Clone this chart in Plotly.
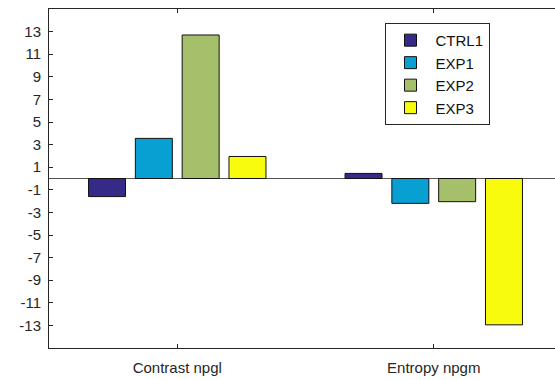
import plotly.graph_objects as go

categories = ["Contrast npgl", "Entropy npgm"]
series_names = ["CTRL1", "EXP1", "EXP2", "EXP3"]
ctrl1 = [-1.6, 0.45]
exp1 = [3.55, -2.2]
exp2 = [12.7, -2.05]
exp3 = [1.95, -12.95]
series_values = [ctrl1, exp1, exp2, exp3]
colors = ["#352a87", "#08a0d2", "#a6bf6a", "#f9fb0e"]
y_ticks = list(range(-13, 14, 2))

fig = go.Figure()
for name, vals, col in zip(series_names, series_values, colors):
    fig.add_trace(go.Bar(
        x=categories, y=vals, name=name,
        marker=dict(color=col, line=dict(color="#111111", width=1)),
    ))

font_fam = "Liberation Sans, Arial, sans-serif"
fig.update_layout(
    width=562, height=380,
    margin=dict(l=49, r=0, t=9, b=32, autoexpand=False),
    paper_bgcolor="white", plot_bgcolor="white",
    barmode="group", bargap=0.27, bargroupgap=0.21,
    font=dict(family=font_fam, size=15, color="#262626"),
    showlegend=True,
    legend=dict(
        x=0.654, y=0.959, xanchor="left", yanchor="top",
        bordercolor="#262626", borderwidth=1, bgcolor="white",
        font=dict(size=15, color="#111111"),
        traceorder="normal",
        itemwidth=40,
    ),
    xaxis=dict(
        range=[-0.5, 1.5],
        showline=True, linecolor="#262626", linewidth=1, mirror="ticks",
        ticks="inside", ticklen=4, tickcolor="#262626",
        showgrid=False, zeroline=False, automargin=False,
        tickfont=dict(size=15), ticklabelstandoff=6,
    ),
    yaxis=dict(
        range=[-15, 15],
        tickvals=y_ticks, ticktext=[str(v) for v in y_ticks],
        showline=True, linecolor="#262626", linewidth=1, mirror=False,
        ticks="inside", ticklen=4, tickcolor="#262626",
        showgrid=False, automargin=False,
        zeroline=True, zerolinecolor="#555555", zerolinewidth=1,
        tickfont=dict(size=15), ticklabelstandoff=4,
    ),
)

fig.write_html(
    "out.html",
    config={"displayModeBar": False},
    post_script="document.body.style.margin='0';document.body.style.overflow='hidden';",
)
